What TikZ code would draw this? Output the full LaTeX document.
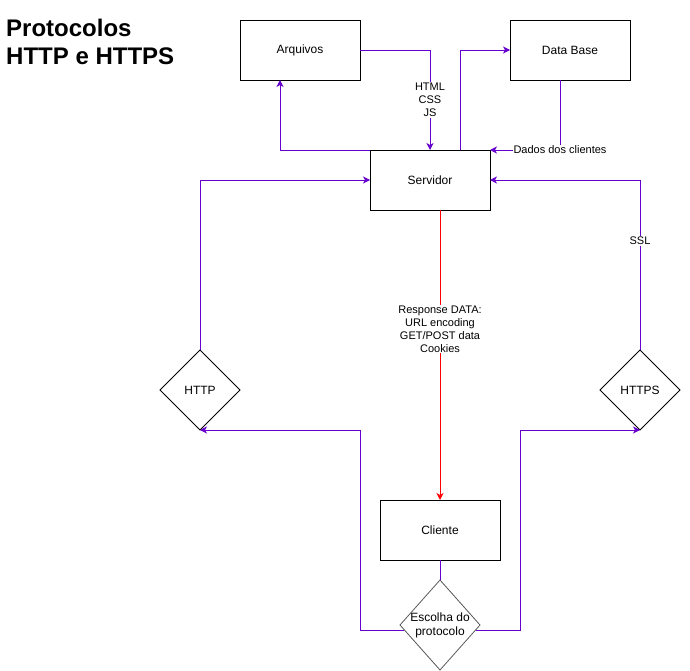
\documentclass[tikz,border=0pt]{standalone}
\usepackage{fontspec}
\setmainfont{Liberation Sans}
\usetikzlibrary{arrows.meta,shapes.geometric,calc}
\definecolor{pur}{HTML}{6600CC}
\definecolor{redl}{HTML}{FF0000}
\begin{document}
\begin{tikzpicture}[x=1pt,y=-1pt,
  box/.style={draw,line width=0.9pt,minimum width=120pt,minimum height=60pt,inner sep=0pt,outer sep=0pt,font=\fontsize{12}{14}\selectfont},
  dia/.style={draw,shape=diamond,line width=0.8pt,minimum width=80pt,minimum height=80pt,inner sep=0pt,outer sep=0pt},
  txt/.style={align=center,inner sep=0pt,font=\fontsize{12}{14}\selectfont},
  lbl/.style={fill=white,align=center,inner sep=1pt,font=\fontsize{11}{13}\selectfont},
  tip/.style={-{Stealth[length=7pt,width=7pt,inset=2pt]}},
  pl/.style={draw=pur,line width=0.8pt,tip},
  rl/.style={draw=redl,line width=0.8pt,tip}]
\useasboundingbox (0,0) rectangle (690,671);

\node[anchor=north west,inner sep=0pt,align=left,font=\fontsize{24}{28}\selectfont\bfseries] (title) at (6,18.5) {Protocolos\\HTTP e HTTPS};

\node[box] (arq) at (300,50) {Arquivos};
\node[box] (db) at (570,50) {Data Base};
\node[box] (srv) at (430,180) {Servidor};
\node[box] (cli) at (440,530) {Cliente};

\node[dia] (http) at (200,390) {};
\node[txt] (httpt) at (http.center) {HTTP};
\node[dia] (https) at (640,390) {};
\node[txt] (httpst) at (https.center) {HTTPS};
\node[dia,draw=black!65,minimum height=90pt] (esc) at (440,625) {};
\node[txt] (esct) at (esc.center) {Escolha do\\protocolo};

\draw[pl] (arq.east) -- (arq.east -| srv.north) -- node[lbl] {HTML\\CSS\\JS} (srv.north);
\draw[pl] (srv.north west) -| ($(arq.south)+(-20,0)$);
\draw[pl] ($(srv.north)+(30,0)$) |- (db.west);
\draw[pl] ($(db.south)+(-10,0)$) |- node[lbl,pos=0.5] {Dados dos clientes} (srv.north east);
\draw[pl] (http.north) |- (srv.west);
\draw[pl] (https.north) |- node[lbl,pos=0.32] {SSL} (srv.east);
\draw[rl] (cli.north |- srv.south) -- node[lbl,pos=0.41] {Response DATA:\\URL encoding\\GET/POST data\\Cookies} (cli.north);
\draw[draw=pur,line width=0.8pt] (cli.south) -- (esc.north);
\draw[pl] ($(esc.west)+(4.4,5)$) -- ++(-44.4,0) |- (http.south);
\draw[pl] ($(esc.east)+(-4.4,5)$) -- ++(44.4,0) |- (https.south);
\end{tikzpicture}
\end{document}
